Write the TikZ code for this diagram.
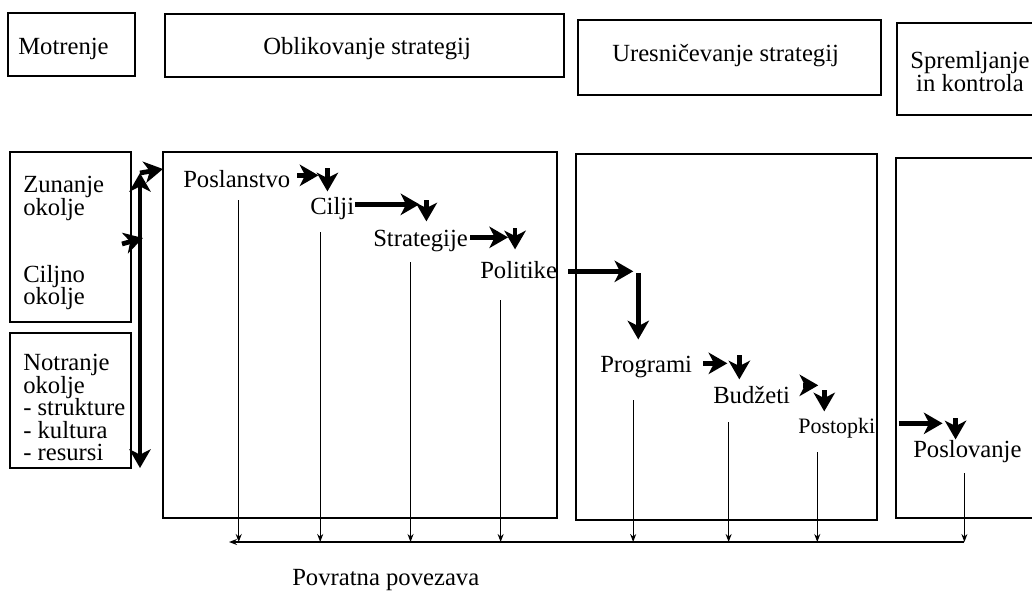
\documentclass[tikz,border=0pt]{standalone}
\usepackage{fontspec}
\setmainfont{Liberation Serif}
\usetikzlibrary{positioning, arrows.meta, calc}
\newcommand{\tightskip}{\lineskiplimit=-20pt\relax}

\begin{document}
\begin{tikzpicture}[
  x=0.75pt, y=-0.75pt,
  frame/.style = {draw, line width=0.8pt},
  word/.style = {inner sep=0pt, anchor=base west, text height=13pt, text depth=0pt, font=\fontsize{18.5}{16.9}\selectfont},
  block/.style = {inner sep=0pt, anchor=north west, align=left, font=\fontsize{18.5}{16.9}\selectfont\tightskip},
  flow/.style = {line width=3.6pt, -{Stealth[length=14pt, width=16pt, inset=4pt]}},
  back/.style = {line width=0.9pt, -{Stealth[length=6pt, width=4.5pt]}}
  ]

\fill[white] (0,0) rectangle (1032,592);
\useasboundingbox (0,0) rectangle (1032,592);

\draw[frame] (8,13) rectangle (135,76);
\draw[frame] (165,14) rectangle (564,77);
\draw[frame] (578,20) rectangle (881,95);
\draw[frame] (1040,23) -| (897,115) -- (1040,115);
\node[word] (motrenje) at (18,55) {Motrenje};
\node[word] (oblikovanje) at (263,55) {Oblikovanje strategij};
\node[word] (uresnicevanje) at (612,62) {Uresničevanje strategij};
\node[block, align=center, anchor=north, font=\fontsize{18.5}{17}\selectfont\tightskip] (spremljanje) at (970,51) {Spremljanje\\in kontrola};

\draw[frame] (10,152) rectangle (131,322);
\draw[frame] (10,333) rectangle (131,468);
\draw[frame] (163,152) rectangle (557,518);
\draw[frame] (576,154) rectangle (877,520);
\draw[frame] (1040,158) -| (896,518) -- (1040,518);

\node[block] (zunanje) at (23,176) {Zunanje\\okolje};
\node[block] (ciljno) at (23,265) {Ciljno\\okolje};
\node[block] (notranje) at (23,354) {Notranje\\okolje\\- strukture\\- kultura\\- resursi};

\node[word] (poslanstvo) at (183,187) {Poslanstvo};
\node[word] (cilji) at (310,214) {Cilji};
\node[word] (strategije) at (373,246) {Strategije};
\node[word] (politike) at (480,278) {Politike};
\node[word] (programi) at (600,372) {Programi};
\node[word] (budzeti) at (713,403) {Budžeti};
\node[word, font=\fontsize{16.5}{16}\selectfont] (postopki) at (798,433) {Postopki};
\node[word] (poslovanje) at (913,457) {Poslovanje};
\node[word] (povratna) at (292,585) {Povratna povezava};

\coordinate (envtop) at (140,173);
\coordinate (envbot) at (140,468);
\coordinate (entry) at (163,169);
\coordinate (ciljout) at (122,244);
\coordinate (ciljin) at (143,238);
\draw[flow, {Stealth[length=14pt, width=16pt, inset=4pt]}-{Stealth[length=14pt, width=16pt, inset=4pt]}] (envtop) -- (envbot);
\draw[flow] (envtop) -- (entry);
\draw[flow] (ciljout) -- (ciljin);

\draw[flow] ($(poslanstvo.east)+(7,-3)$) -- ++(21,0) coordinate (t1);
\draw[flow] ($(t1)+(9,-7)$) -- ($(t1 |- cilji.north)+(9,-5)$);
\draw[flow] ($(cilji.east)+(1,-1)$) -- ++(64,0) coordinate (t2);
\draw[flow] ($(t2)+(7,-4)$) -- ($(t2 |- strategije.north)+(7,-7)$);
\draw[flow] ($(strategije.east)+(2,0)$) -- ++(38,0) coordinate (t3);
\draw[flow] ($(t3)+(7,-9)$) -- ($(t3 |- politike.north)+(7,-11)$);
\draw[flow] ($(politike.east)+(11,2)$) -- ++(65,0) coordinate (t4);
\draw[flow] ($(t4)+(5,2)$) -- ($(t4 |- programi.north)+(5,-15)$);
\draw[flow] ($(programi.east)+(11,0)$) -- ++(24,0) coordinate (t5);
\draw[flow] ($(t5)+(12,-8)$) -- ($(t5 |- budzeti.north)+(12,-6)$);
\draw[flow] ($(budzeti.east)+(13,-9)$) -- ++(15,0) coordinate (t6);
\draw[flow] ($(t6)+(6,5)$) -- ($(t6 |- postopki.north)+(6,-4)$);
\draw[flow] ($(postopki.east)+(23,-1)$) -- ++(44,0) coordinate (t7);
\draw[flow] ($(t7)+(13,-5)$) -- ($(t7 |- poslovanje.north)+(13,0)$);

\coordinate (fbR) at (964,542);
\coordinate (fbL) at (229,542);
\draw[back, line width=1.2pt] (fbR) -- (fbL);
\foreach \n/\dx/\dy in {poslanstvo/2/13, cilji/-12/18, strategije/-10/16, politike/-18/22, programi/-13/28, budzeti/-23/19, postopki/-19.5/19, poslovanje/-3/16}
  \draw[back] ($(\n.south)+(\dx,\dy)$) coordinate (s) -- (s |- fbR);

\end{tikzpicture}
\end{document}
